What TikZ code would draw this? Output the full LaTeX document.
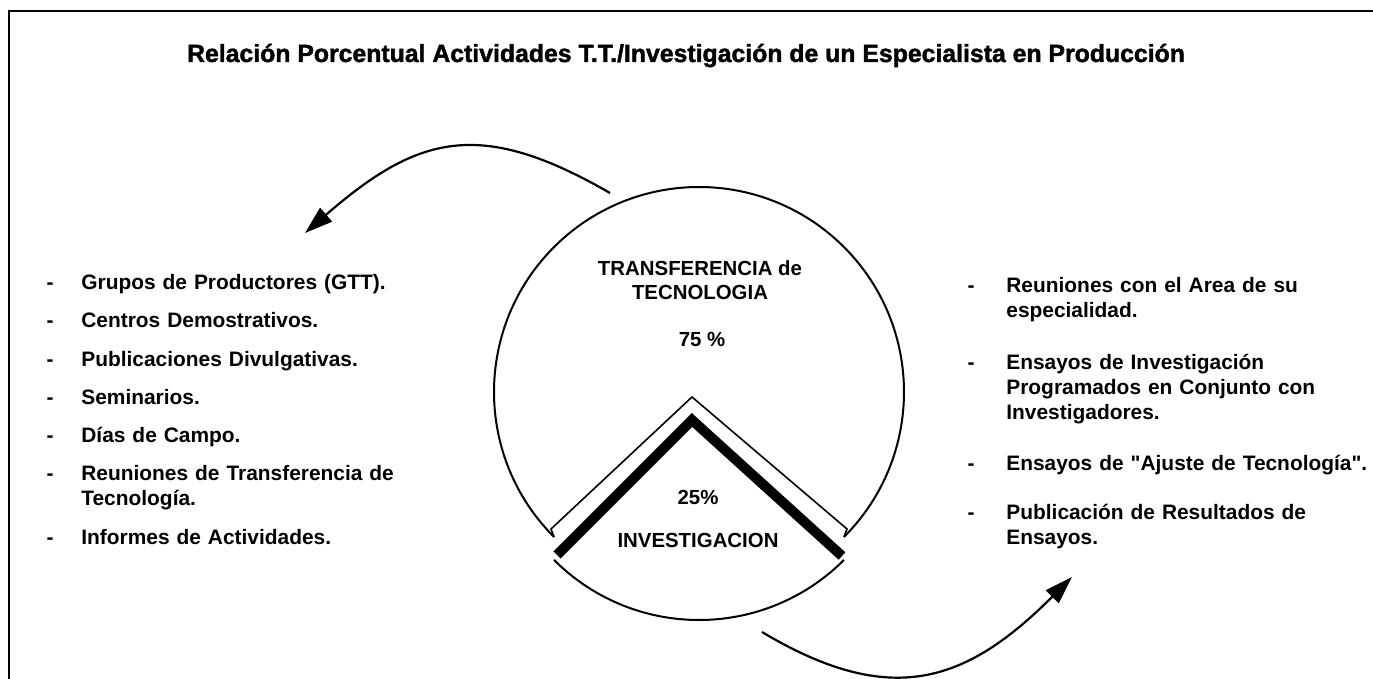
\documentclass[tikz,border=0pt]{standalone}
\usepackage{fontspec}
\setmainfont{Liberation Sans}
\newfontfamily\listfont{Liberation Sans}
\newfontfamily\heavyfont[FakeBold=1.6]{Liberation Sans Bold}
\usetikzlibrary{arrows.meta,calc}

\begin{document}
\begin{tikzpicture}[
  x=0.5pt, y=-0.5pt,
  every node/.style={inner sep=0pt},
  titletext/.style={font=\heavyfont\fontsize{12.4}{14}\selectfont, anchor=base},
  pietext/.style={font=\bfseries\fontsize{10.2}{12}\selectfont, align=center},
  listdash/.style={font=\listfont\bfseries\fontsize{10.45}{12.5}\selectfont, anchor=base},
  listitem/.style={font=\listfont\bfseries\fontsize{10.45}{12.6}\selectfont, anchor=base west, align=left},
  piece/.style={line width=1pt},
  cutline/.style={line width=0.8pt, line join=miter},
  band/.style={line width=5pt, line join=miter},
  arrow/.style={-{Triangle[length=14pt, width=9pt]}, line width=1.1pt}
]
\useasboundingbox (0,0) rectangle (1373,679);

% frame
\draw[line width=1.4pt] (9,679) -- (9,11) -- (1373,11);

\node[titletext] (title) at (686,62) {Relación Porcentual Actividades T.T./Investigación de un Especialista en Producción};

% pie: big piece
\coordinate (c1) at (699,392);
\coordinate (apex1) at (692,397);
\draw[piece] ($(c1)+(45:205)$) arc[start angle=45, end angle=-225, radius=205];
\draw[cutline] ($(c1)+(135:205)$) -- (551,529) -- (apex1) -- (847,529) -- ($(c1)+(45:205)$);

% pie: small piece
\coordinate (c2) at (699,415);
\coordinate (apex2) at (692,420);
\draw[piece] ($(c2)+(135:205)$) arc[start angle=135, end angle=45, radius=205];
\draw[band] (557,555) -- (apex2) -- (842,556);

\node[pietext] (tt) at (700,280) {TRANSFERENCIA de\\TECNOLOGIA};
\node[pietext] (ttp) at (702,340) {75 \%};
\node[pietext] (invp) at (698,497) {25\%};
\node[pietext] (inv) at (698,540) {INVESTIGACION};

% left list
\node[listdash] (ld1) at (50,289.5) {-};
\node[listitem, text width=170pt] (l1) at (81,289.5) {Grupos de Productores (GTT).};
\node[listdash] (ld2) at (50,328) {-};
\node[listitem, text width=170pt] (l2) at (81,328) {Centros Demostrativos.};
\node[listdash] (ld3) at (50,366.5) {-};
\node[listitem, text width=170pt] (l3) at (81,366.5) {Publicaciones Divulgativas.};
\node[listdash] (ld4) at (50,404.5) {-};
\node[listitem, text width=170pt] (l4) at (81,404.5) {Seminarios.};
\node[listdash] (ld5) at (50,443) {-};
\node[listitem, text width=170pt] (l5) at (81,443) {Días de Campo.};
\node[listdash] (ld6) at (50,480.5) {-};
\node[listitem, text width=170pt] (l6) at (81,480.5) {Reuniones de Transferencia de\\Tecnología.};
\node[listdash] (ld7) at (50,544.5) {-};
\node[listitem, text width=170pt] (l7) at (81,544.5) {Informes de Actividades.};

% right list
\node[listdash] (rd1) at (971,292.5) {-};
\node[listitem, text width=184pt] (r1) at (1006,292.5) {Reuniones con el Area de su\\especialidad.};
\node[listdash] (rd2) at (971,369.5) {-};
\node[listitem, text width=184pt] (r2) at (1006,369.5) {Ensayos de Investigación\\Programados en Conjunto con\\Investigadores.};
\node[listdash] (rd3) at (971,470.5) {-};
\node[listitem, text width=184pt] (r3) at (1006,470.5) {Ensayos de "Ajuste de Tecnología".};
\node[listdash] (rd4) at (971,519.5) {-};
\node[listitem, text width=184pt] (r4) at (1006,519.5) {Publicación de Resultados de\\Ensayos.};

% arrows
\coordinate (ttout) at (610,193);
\coordinate (ttin) at (305,233);
\draw[arrow] (ttout) .. controls (480,118) and (418,135) .. (ttin);
\coordinate (invout) at (762,632);
\coordinate (invin) at (1072,577);
\draw[arrow] (invout) .. controls (891,709) and (966,683) .. (invin);
\end{tikzpicture}
\end{document}
